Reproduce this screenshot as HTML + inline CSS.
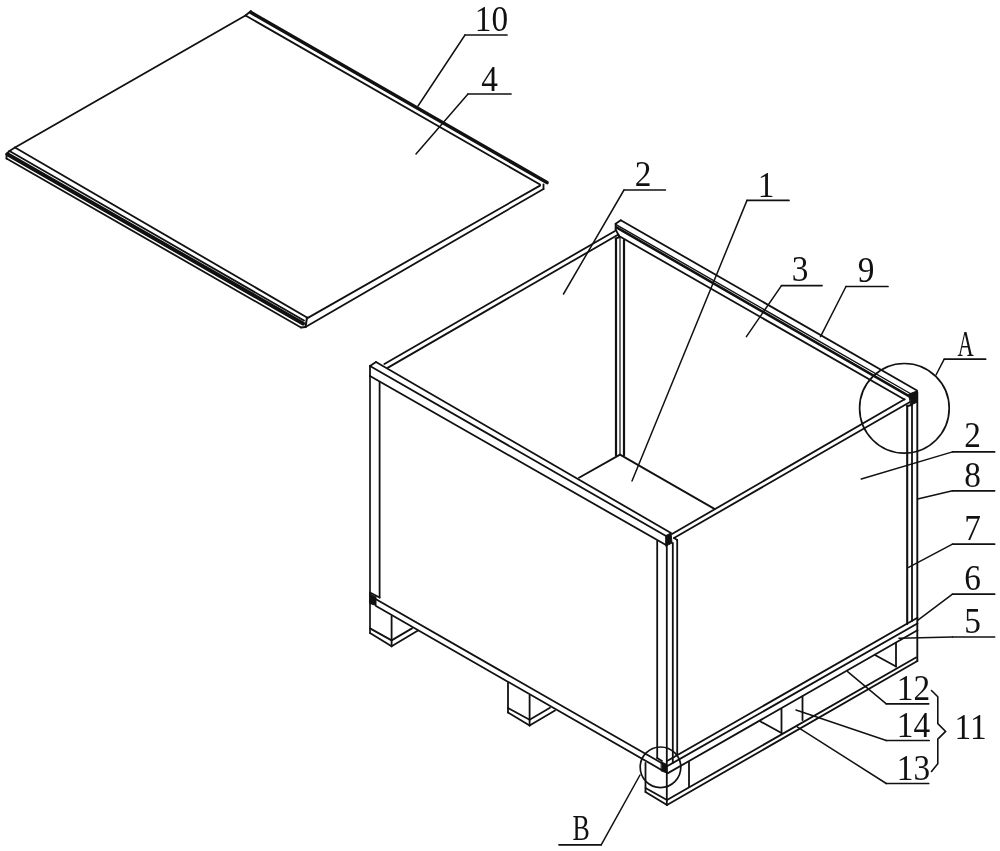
<!DOCTYPE html>
<html><head><meta charset="utf-8"><title>Figure 1</title>
<style>
html,body{margin:0;padding:0;background:#fff;}
body{width:1000px;height:851px;overflow:hidden;}
svg{display:block;}
svg text{font-family:"Liberation Serif","Noto Serif CJK SC",serif;font-size:34px;fill:#111;text-anchor:middle;}
</style></head><body>
<svg width="1000" height="851" viewBox="0 0 1000 851">
<rect width="1000" height="851" fill="#fff"/>
<g stroke="#111" stroke-linecap="round" fill="none">
<line x1="15.0" y1="147.5" x2="245.5" y2="15.5" stroke-width="1.8"/>
<line x1="245.5" y1="15.5" x2="251.0" y2="11.0" stroke-width="1.8"/>
<line x1="251.0" y1="12.5" x2="547.0" y2="182.5" stroke-width="3.6"/>
<line x1="245.5" y1="15.5" x2="540.0" y2="184.5" stroke-width="1.8"/>
<line x1="540.0" y1="185.6" x2="307.0" y2="318.4" stroke-width="1.8"/>
<line x1="543.5" y1="189.0" x2="305.5" y2="327.0" stroke-width="1.8"/>
<line x1="543.5" y1="184.5" x2="543.5" y2="189.0" stroke-width="1.8"/>
<line x1="15.0" y1="147.5" x2="307.0" y2="317.5" stroke-width="1.8"/>
<line x1="9.5" y1="151.0" x2="304.0" y2="320.5" stroke-width="1.8"/>
<line x1="7.5" y1="154.3" x2="303.0" y2="323.6" stroke-width="4.0"/>
<line x1="6.5" y1="158.5" x2="301.0" y2="327.5" stroke-width="1.8"/>
<line x1="15.0" y1="147.5" x2="9.5" y2="151.0" stroke-width="1.8"/>
<line x1="9.5" y1="151.0" x2="6.5" y2="154.0" stroke-width="1.8"/>
<line x1="6.5" y1="154.0" x2="6.5" y2="158.5" stroke-width="1.8"/>
<line x1="307.0" y1="317.5" x2="305.5" y2="327.0" stroke-width="2.0"/>
<line x1="305.5" y1="327.0" x2="301.0" y2="327.5" stroke-width="2.0"/>
<line x1="620.8" y1="220.2" x2="917.0" y2="390.5" stroke-width="1.8"/>
<line x1="615.6" y1="224.3" x2="912.0" y2="394.5" stroke-width="1.4"/>
<line x1="616.5" y1="227.4" x2="912.0" y2="397.8" stroke-width="2.6"/>
<line x1="619.0" y1="236.0" x2="904.5" y2="399.5" stroke-width="1.8"/>
<line x1="620.8" y1="220.2" x2="615.6" y2="223.8" stroke-width="1.8"/>
<line x1="615.6" y1="223.8" x2="615.6" y2="229.4" stroke-width="1.8"/>
<line x1="615.6" y1="229.4" x2="619.0" y2="236.0" stroke-width="1.8"/>
<line x1="384.4" y1="364.0" x2="615.0" y2="231.0" stroke-width="1.8"/>
<line x1="388.0" y1="367.6" x2="618.0" y2="234.8" stroke-width="1.8"/>
<line x1="618.5" y1="234.8" x2="619.2" y2="237.5" stroke-width="1.8"/>
<line x1="615.6" y1="238.6" x2="619.2" y2="237.2" stroke-width="1.8"/>
<line x1="616.0" y1="238.6" x2="616.0" y2="455.2" stroke-width="2.2"/>
<line x1="620.0" y1="238.0" x2="620.0" y2="454.4" stroke-width="1.2"/>
<line x1="624.0" y1="240.0" x2="624.0" y2="455.2" stroke-width="2.2"/>
<line x1="376.0" y1="362.0" x2="671.0" y2="533.0" stroke-width="1.8"/>
<line x1="370.0" y1="366.0" x2="666.0" y2="536.0" stroke-width="1.8"/>
<line x1="370.0" y1="376.0" x2="666.0" y2="545.0" stroke-width="1.8"/>
<line x1="376.0" y1="362.0" x2="370.0" y2="366.0" stroke-width="1.8"/>
<line x1="370.0" y1="366.0" x2="370.0" y2="376.0" stroke-width="1.8"/>
<polygon points="666.0,535.5 671.0,533.0 672.0,543.0 666.0,546.0" fill="#111" stroke-width="1"/>
<line x1="370.0" y1="376.0" x2="370.0" y2="633.0" stroke-width="1.7"/>
<line x1="379.6" y1="382.0" x2="379.6" y2="597.5" stroke-width="1.8"/>
<line x1="672.0" y1="534.0" x2="904.6" y2="399.2" stroke-width="1.8"/>
<line x1="674.0" y1="538.0" x2="910.0" y2="402.0" stroke-width="1.8"/>
<line x1="657.2" y1="541.0" x2="657.2" y2="758.0" stroke-width="1.8"/>
<line x1="666.8" y1="546.0" x2="666.8" y2="805.0" stroke-width="1.8"/>
<line x1="672.8" y1="543.0" x2="672.8" y2="763.0" stroke-width="1.8"/>
<line x1="677.2" y1="540.0" x2="677.2" y2="755.0" stroke-width="1.8"/>
<line x1="674.0" y1="538.0" x2="677.2" y2="540.0" stroke-width="1.8"/>
<line x1="907.2" y1="406.0" x2="907.2" y2="624.0" stroke-width="2.1"/>
<line x1="912.0" y1="405.0" x2="912.0" y2="621.0" stroke-width="1.8"/>
<line x1="907.0" y1="406.0" x2="912.0" y2="405.0" stroke-width="1.8"/>
<line x1="917.3" y1="392.0" x2="917.3" y2="661.0" stroke-width="1.9"/>
<polygon points="909.0,394.0 917.0,391.0 917.4,402.0 911.0,405.0" fill="#111" stroke-width="1"/>
<line x1="579.0" y1="477.8" x2="620.0" y2="454.6" stroke-width="1.8"/>
<line x1="620.0" y1="454.6" x2="714.0" y2="508.6" stroke-width="1.8"/>
<line x1="376.0" y1="599.3" x2="662.0" y2="763.2" stroke-width="1.8"/>
<line x1="376.0" y1="606.0" x2="662.0" y2="770.2" stroke-width="1.8"/>
<polygon points="370.0,594.0 376.0,597.0 376.0,605.5 370.0,603.5" fill="#111" stroke-width="1"/>
<line x1="370.0" y1="592.5" x2="379.6" y2="597.5" stroke-width="1.8"/>
<line x1="370.0" y1="628.4" x2="391.6" y2="640.4" stroke-width="1.8"/>
<line x1="391.6" y1="640.4" x2="412.0" y2="628.4" stroke-width="1.8"/>
<line x1="370.0" y1="633.0" x2="391.6" y2="646.3" stroke-width="1.8"/>
<line x1="391.6" y1="646.3" x2="418.0" y2="630.6" stroke-width="1.8"/>
<line x1="391.6" y1="616.0" x2="391.6" y2="646.3" stroke-width="1.8"/>
<line x1="508.0" y1="683.0" x2="508.0" y2="712.5" stroke-width="1.8"/>
<line x1="508.0" y1="708.0" x2="529.6" y2="719.7" stroke-width="1.8"/>
<line x1="529.6" y1="719.7" x2="550.0" y2="707.8" stroke-width="1.8"/>
<line x1="508.0" y1="712.5" x2="529.6" y2="725.6" stroke-width="1.8"/>
<line x1="529.6" y1="725.6" x2="555.0" y2="710.6" stroke-width="1.8"/>
<line x1="529.6" y1="695.6" x2="529.6" y2="725.6" stroke-width="1.8"/>
<polygon points="661.5,762.0 667.0,764.5 667.0,773.0 661.5,771.0" fill="#111" stroke-width="1"/>
<line x1="657.2" y1="758.0" x2="662.0" y2="761.0" stroke-width="1.8"/>
<line x1="645.5" y1="763.0" x2="645.5" y2="792.0" stroke-width="1.8"/>
<line x1="645.5" y1="788.0" x2="667.0" y2="800.0" stroke-width="1.8"/>
<line x1="667.0" y1="800.0" x2="916.0" y2="657.5" stroke-width="1.8"/>
<line x1="645.5" y1="792.0" x2="667.0" y2="805.0" stroke-width="1.8"/>
<line x1="667.0" y1="805.0" x2="917.4" y2="661.0" stroke-width="1.8"/>
<line x1="667.5" y1="760.7" x2="917.4" y2="617.8" stroke-width="1.9"/>
<line x1="667.5" y1="766.0" x2="917.4" y2="623.5" stroke-width="1.9"/>
<line x1="667.5" y1="773.4" x2="917.4" y2="630.3" stroke-width="1.8"/>
<line x1="689.0" y1="762.0" x2="689.0" y2="786.5" stroke-width="1.8"/>
<line x1="781.5" y1="709.0" x2="781.5" y2="733.0" stroke-width="1.8"/>
<line x1="802.5" y1="696.5" x2="802.5" y2="720.0" stroke-width="1.8"/>
<line x1="760.5" y1="721.5" x2="781.5" y2="733.0" stroke-width="1.8"/>
<line x1="896.0" y1="643.0" x2="896.0" y2="666.5" stroke-width="1.8"/>
<line x1="875.0" y1="655.0" x2="896.0" y2="666.5" stroke-width="1.8"/>
<line x1="465.0" y1="35.0" x2="507.0" y2="35.0" stroke-width="1.7"/>
<line x1="465.0" y1="35.0" x2="418.0" y2="106.0" stroke-width="1.5"/>
<line x1="468.0" y1="94.0" x2="511.0" y2="94.0" stroke-width="1.7"/>
<line x1="468.0" y1="94.0" x2="416.0" y2="154.0" stroke-width="1.5"/>
<line x1="624.0" y1="190.0" x2="665.4" y2="190.0" stroke-width="1.7"/>
<line x1="624.0" y1="190.0" x2="563.5" y2="294.0" stroke-width="1.5"/>
<line x1="747.0" y1="200.4" x2="789.0" y2="200.4" stroke-width="1.7"/>
<line x1="747.0" y1="200.4" x2="632.0" y2="481.0" stroke-width="1.5"/>
<line x1="781.5" y1="285.6" x2="822.0" y2="285.6" stroke-width="1.7"/>
<line x1="781.5" y1="285.6" x2="746.4" y2="336.6" stroke-width="1.5"/>
<line x1="846.0" y1="286.5" x2="888.0" y2="286.5" stroke-width="1.7"/>
<line x1="846.0" y1="286.5" x2="820.5" y2="336.6" stroke-width="1.5"/>
<line x1="944.2" y1="359.2" x2="985.6" y2="359.2" stroke-width="1.7"/>
<line x1="944.2" y1="359.2" x2="936.0" y2="375.0" stroke-width="1.5"/>
<line x1="952.5" y1="451.9" x2="994.6" y2="451.9" stroke-width="1.7"/>
<line x1="952.5" y1="451.9" x2="861.3" y2="479.0" stroke-width="1.5"/>
<line x1="952.5" y1="490.8" x2="994.6" y2="490.8" stroke-width="1.7"/>
<line x1="952.5" y1="490.8" x2="917.6" y2="498.9" stroke-width="1.5"/>
<line x1="952.5" y1="544.2" x2="994.6" y2="544.2" stroke-width="1.7"/>
<line x1="952.5" y1="544.2" x2="908.6" y2="567.4" stroke-width="1.5"/>
<line x1="952.5" y1="594.2" x2="994.6" y2="594.2" stroke-width="1.7"/>
<line x1="952.5" y1="594.2" x2="917.6" y2="620.4" stroke-width="1.5"/>
<line x1="952.5" y1="637.0" x2="994.6" y2="637.0" stroke-width="1.7"/>
<line x1="952.5" y1="637.0" x2="899.0" y2="638.2" stroke-width="1.5"/>
<line x1="886.3" y1="703.8" x2="928.7" y2="703.8" stroke-width="1.7"/>
<line x1="886.3" y1="703.8" x2="847.6" y2="671.6" stroke-width="1.5"/>
<line x1="886.3" y1="740.5" x2="929.2" y2="740.5" stroke-width="1.7"/>
<line x1="886.3" y1="740.5" x2="796.0" y2="710.0" stroke-width="1.5"/>
<line x1="886.3" y1="783.5" x2="928.7" y2="783.5" stroke-width="1.7"/>
<line x1="886.3" y1="783.5" x2="797.2" y2="726.8" stroke-width="1.5"/>
<line x1="559.0" y1="844.8" x2="601.2" y2="844.8" stroke-width="1.7"/>
<line x1="601.2" y1="844.8" x2="640.0" y2="775.0" stroke-width="1.5"/>
<circle cx="904.4" cy="408.3" r="44.8" stroke-width="1.7"/>
<circle cx="660.5" cy="767.3" r="20.3" stroke-width="1.7"/>
<polyline points="931.5,690.5 937.8,696.8 937.8,723.6 945.6,731.4 937.8,739.1 937.8,763.8 931.5,771.5" stroke-width="1.6" stroke-linejoin="miter"/>
</g>
<g style="opacity:0.999">
<text transform="translate(491.5 31.0) scale(0.98 1.05)">10</text>
<text transform="translate(489.5 91.0) scale(0.98 1.05)">4</text>
<text transform="translate(643.0 186.0) scale(0.98 1.05)">2</text>
<text transform="translate(766.0 196.5) scale(0.98 1.05)">1</text>
<text transform="translate(800.0 280.5) scale(0.98 1.05)">3</text>
<text transform="translate(866.0 282.0) scale(0.98 1.05)">9</text>
<text transform="translate(965.5 356.0) scale(0.66 1.03)">A</text>
<text transform="translate(972.5 446.5) scale(0.98 1.05)">2</text>
<text transform="translate(972.5 487.0) scale(0.98 1.05)">8</text>
<text transform="translate(972.5 540.0) scale(0.98 1.05)">7</text>
<text transform="translate(972.5 589.5) scale(0.98 1.05)">6</text>
<text transform="translate(972.5 633.0) scale(0.98 1.05)">5</text>
<text transform="translate(913.5 699.5) scale(0.98 1.05)">12</text>
<text transform="translate(913.5 736.5) scale(0.98 1.05)">14</text>
<text transform="translate(913.5 779.5) scale(0.98 1.05)">13</text>
<text transform="translate(581.0 840.5) scale(0.76 1.03)">B</text>
<text transform="translate(970.5 739.0) scale(0.98 1.05)">11</text>
</g>
</svg>
</body></html>
